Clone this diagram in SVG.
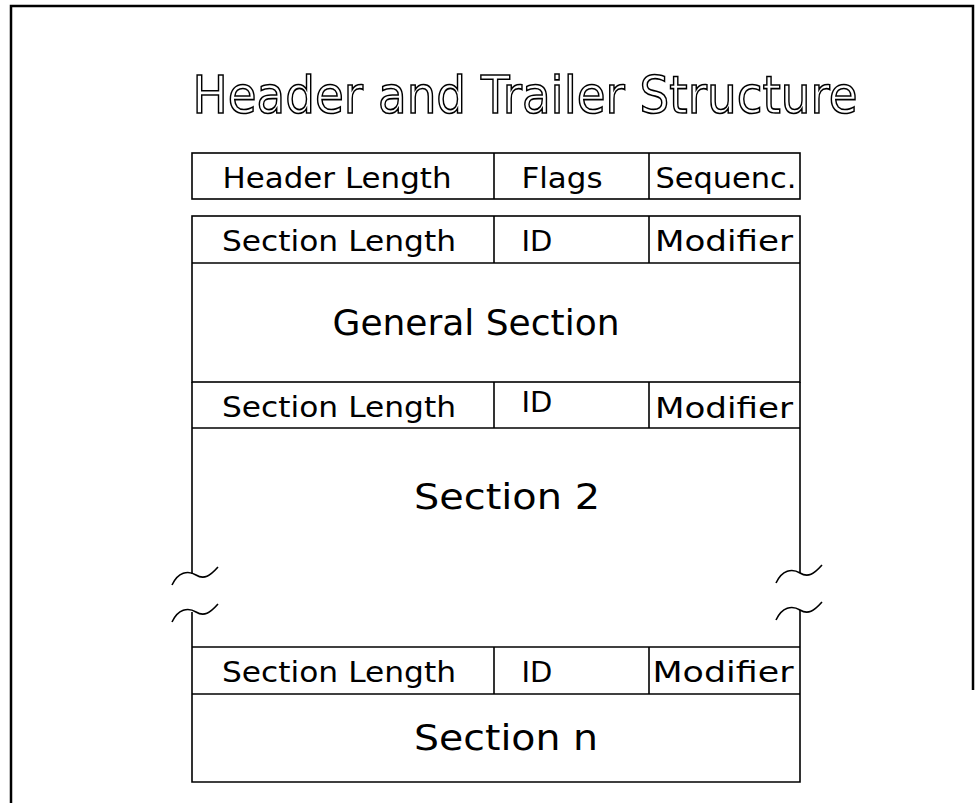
<svg xmlns="http://www.w3.org/2000/svg" width="975" height="803" viewBox="0 0 975 803">
<style>
.ln{fill:none;stroke:#000;stroke-width:1.6}
.fr{fill:none;stroke:#000;stroke-width:2.5}
.t{font-family:"DejaVu Sans","Liberation Sans",sans-serif;font-size:29px;fill:#000;text-anchor:middle}
.big{font-family:"DejaVu Sans","Liberation Sans",sans-serif;font-size:36px;fill:#000;text-anchor:middle}
.title{font-family:"DejaVu Sans","Liberation Sans",sans-serif;font-size:52px;fill:#fff;stroke:#000;stroke-width:1.6;text-anchor:middle}
</style>
<rect width="975" height="803" fill="#fff"/>
<g id="frame">
<path class="fr" d="M11,803 V6 H973 V690"/>
</g>
<g id="title">
<text class="title" x="525" y="113" textLength="665" lengthAdjust="spacingAndGlyphs">Header and Trailer Structure</text>
</g>
<g id="header">
<rect class="ln" x="192" y="153" width="608" height="46"/>
<line class="ln" x1="494" y1="153" x2="494" y2="199"/>
<line class="ln" x1="649" y1="153" x2="649" y2="199"/>
<text class="t" x="337" y="188" textLength="229" lengthAdjust="spacingAndGlyphs">Header Length</text>
<text class="t" x="562" y="188" textLength="81" lengthAdjust="spacingAndGlyphs">Flags</text>
<text class="t" x="726" y="188" textLength="141" lengthAdjust="spacingAndGlyphs">Sequenc.</text>
</g>
<g id="general">
<rect class="ln" x="192" y="216" width="608" height="166"/>
<line class="ln" x1="192" y1="263" x2="800" y2="263"/>
<line class="ln" x1="494" y1="216" x2="494" y2="263"/>
<line class="ln" x1="649" y1="216" x2="649" y2="263"/>
<text class="t" x="339" y="251" textLength="234" lengthAdjust="spacingAndGlyphs">Section Length</text>
<text class="t" x="537" y="251">ID</text>
<text class="t" x="724" y="251" textLength="138" lengthAdjust="spacingAndGlyphs">Modifier</text>
<text class="big" x="476" y="335" textLength="287" lengthAdjust="spacingAndGlyphs">General Section</text>
</g>
<g id="section2">
<line class="ln" x1="192" y1="428" x2="800" y2="428"/>
<line class="ln" x1="494" y1="382" x2="494" y2="428"/>
<line class="ln" x1="649" y1="382" x2="649" y2="428"/>
<path class="ln" d="M192,382 V574 M800,382 V573"/>
<text class="t" x="339" y="417" textLength="234" lengthAdjust="spacingAndGlyphs">Section Length</text>
<text class="t" x="537" y="412">ID</text>
<text class="t" x="724" y="418" textLength="138" lengthAdjust="spacingAndGlyphs">Modifier</text>
<text class="big" x="507" y="509" textLength="186" lengthAdjust="spacingAndGlyphs">Section 2</text>
</g>
<g id="breaks">
<path class="ln" d="M172,585 C178,572 188,570 196,575 C204,580 210,576 218,567"/>
<path class="ln" d="M172,622 C178,609 188,607 196,612 C204,617 210,613 218,604"/>
<path class="ln" d="M776,583 C782,570 792,568 800,573 C808,578 814,574 822,565"/>
<path class="ln" d="M776,620 C782,607 792,605 800,610 C808,615 814,611 822,602"/>
</g>
<g id="sectionn">
<path class="ln" d="M192,612 V782 H800 V610"/>
<line class="ln" x1="192" y1="647" x2="800" y2="647"/>
<line class="ln" x1="192" y1="694" x2="800" y2="694"/>
<line class="ln" x1="494" y1="647" x2="494" y2="694"/>
<line class="ln" x1="649" y1="647" x2="649" y2="694"/>
<text class="t" x="339" y="682" textLength="234" lengthAdjust="spacingAndGlyphs">Section Length</text>
<text class="t" x="537" y="682">ID</text>
<text class="t" x="723" y="682" textLength="141" lengthAdjust="spacingAndGlyphs">Modifier</text>
<text class="big" x="506" y="750" textLength="184" lengthAdjust="spacingAndGlyphs">Section n</text>
</g>
</svg>
